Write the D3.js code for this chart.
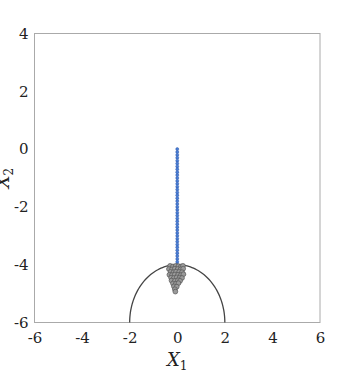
<!DOCTYPE html>
<html>
<head>
<meta charset="utf-8">
<script src="https://cdn.jsdelivr.net/npm/d3@7"></script>
<style>
  body { margin: 0; background: #fff; }
</style>
</head>
<body>
<svg id="chart" width="359" height="374"></svg>
<script>
// Axis ticks
var xTicks = [-6, -4, -2, 0, 2, 4, 6];
var yTicks = [-6, -4, -2, 0, 2, 4];

// Blue trajectory along x = 0
var pathY = [0, -0.1, -0.2, -0.3, -0.4, -0.5, -0.6, -0.7, -0.8, -0.9,
             -1.0, -1.1, -1.2, -1.3, -1.4, -1.5, -1.6, -1.7, -1.8, -1.9,
             -2.0, -2.1, -2.2, -2.3, -2.4, -2.5, -2.6, -2.7, -2.8, -2.9,
             -3.0, -3.1, -3.2, -3.3, -3.4, -3.5, -3.6, -3.7, -3.8, -3.9, -4.0];

// Grey cluster below the boundary
var clusterX = [-0.3, -0.18, -0.06, 0.05, 0.16, 0.24,
                -0.35, -0.22, -0.1, 0.02, 0.14, 0.25,
                -0.28, -0.16, -0.05, 0.08, 0.2,
                -0.33, -0.22, -0.1, 0.03, 0.15, 0.26,
                -0.26, -0.14, -0.02, 0.1, 0.2,
                -0.24, -0.1, 0.03, 0.12,
                -0.18, -0.06, 0.05,
                -0.14, -0.02,
                -0.1, -0.08];
var clusterY = [-4.04, -4.06, -4.04, -4.05, -4.06, -4.04,
                -4.15, -4.16, -4.14, -4.15, -4.16, -4.14,
                -4.25, -4.26, -4.24, -4.25, -4.26,
                -4.35, -4.36, -4.34, -4.35, -4.36, -4.33,
                -4.45, -4.46, -4.44, -4.45, -4.46,
                -4.55, -4.56, -4.54, -4.56,
                -4.65, -4.66, -4.64,
                -4.75, -4.76,
                -4.85, -4.93];

// Boundary: half ellipse centred at (0, -6), radius 2
var boundaryCenter = [0, -6];
var boundaryRadius = 2;

var FONT = "'DejaVu Serif', 'Liberation Serif', serif";

var svg = d3.select("#chart");
var padL = 34.5, padR = 320, padT = 33.5, padB = 322.5;

var x = d3.scaleLinear().domain([-6, 6]).range([padL, padR]);
var y = d3.scaleLinear().domain([-6, 4]).range([padB, padT]);

// Frame
svg.append("rect")
  .attr("x", padL)
  .attr("y", padT)
  .attr("width", padR - padL)
  .attr("height", padB - padT)
  .attr("fill", "none")
  .attr("stroke", "#aaa")
  .attr("stroke-width", 1);

// Axes (labels only, no tick lines)
svg.append("g")
  .attr("transform", `translate(0, ${padB})`)
  .attr("font-family", FONT)
  .call(d3.axisBottom(x).tickValues(xTicks).tickSize(0).tickPadding(10).tickFormat(d => String(d)))
  .attr("font-family", FONT)
  .call(g => g.select(".domain").remove())
  .call(g => g.selectAll("text").style("font-size", "15px").style("font-family", FONT).attr("fill", "#222"));

svg.append("g")
  .attr("transform", `translate(${padL}, 0)`)
  .call(d3.axisLeft(y).tickValues(yTicks).tickSize(0).tickPadding(6).tickFormat(d => String(d)))
  .attr("font-family", FONT)
  .call(g => g.select(".domain").remove())
  .call(g => g.selectAll("text").style("font-size", "15px").style("font-family", FONT).attr("fill", "#222"));

// Boundary arc
var arcPts = d3.range(0, 181, 2).map(a => {
  let t = a * Math.PI / 180;
  return [boundaryCenter[0] + boundaryRadius * Math.cos(t), boundaryCenter[1] + boundaryRadius * Math.sin(t)];
});
svg.append("path")
  .attr("d", d3.line().x(d => x(d[0])).y(d => y(d[1]))(arcPts))
  .attr("fill", "none")
  .attr("stroke", "#444")
  .attr("stroke-width", 1.3);

// Blue trajectory
svg.append("g").selectAll("circle")
  .data(pathY)
  .enter().append("circle")
  .attr("cx", x(0))
  .attr("cy", d => y(d))
  .attr("r", 1.5)
  .attr("fill", "#4a7fd6")
  .attr("stroke", "#2a55a8")
  .attr("stroke-width", 0.5);

// Grey cluster
svg.append("g").selectAll("circle")
  .data(clusterX.map((v, i) => [v, clusterY[i]]))
  .enter().append("circle")
  .attr("cx", d => x(d[0]))
  .attr("cy", d => y(d[1]))
  .attr("r", 2.4)
  .attr("fill", "#9a9a9a")
  .attr("stroke", "#555")
  .attr("stroke-width", 0.7);

// Axis titles
var xl = svg.append("text")
  .attr("x", x(0))
  .attr("y", 366)
  .attr("text-anchor", "middle")
  .style("font-family", FONT)
  .style("font-size", "18px")
  .attr("fill", "#222");
xl.append("tspan").style("font-style", "italic").text("X");
xl.append("tspan").attr("dy", 4).style("font-size", "12px").text("1");

var yl = svg.append("text")
  .attr("transform", `translate(9, ${y(-1)}) rotate(-90)`)
  .attr("text-anchor", "middle")
  .style("font-family", FONT)
  .style("font-size", "18px")
  .attr("fill", "#222");
yl.append("tspan").style("font-style", "italic").text("X");
yl.append("tspan").attr("dy", 4).style("font-size", "12px").text("2");
</script>
</body>
</html>
